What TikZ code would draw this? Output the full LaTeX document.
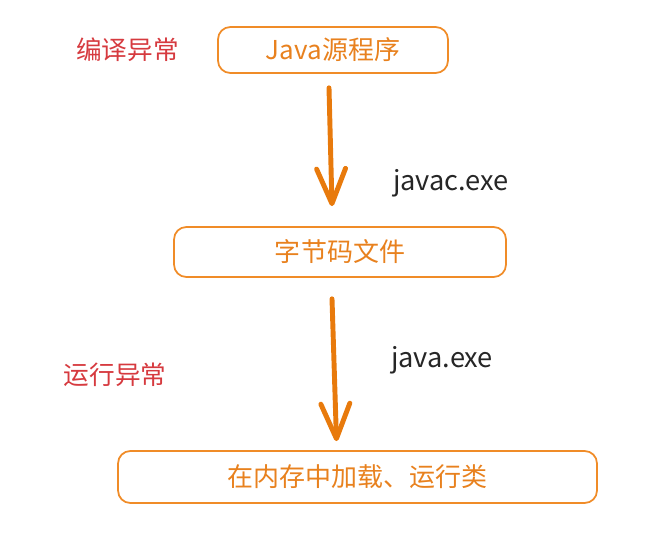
\documentclass[tikz,border=0pt]{standalone}
\usepackage{fontspec}
\setmainfont{Noto Sans CJK SC}
\usetikzlibrary{arrows.meta}
\definecolor{boxorange}{HTML}{F08C28}
\definecolor{arroworange}{HTML}{E87A0C}
\definecolor{textorange}{HTML}{E8811E}
\definecolor{errred}{HTML}{D63A3F}
\tikzset{
	stepbox/.style={draw=boxorange, line width=1pt, rounded corners=7pt,
		text=textorange, inner sep=0pt, font=\fontsize{14.8}{18}\selectfont},
	flow/.style={draw=arroworange, line width=2.8pt, line cap=round,
		-{Straight Barb[length=7mm,width=5.8mm,round]}},
	errlabel/.style={text=errred, font=\fontsize{14.6}{17}\selectfont},
	cmdlabel/.style={text=black!85, font=\fontsize{15.5}{18}\selectfont}
}
\begin{document}
\begin{tikzpicture}[x=0.02cm,y=-0.02cm]
	\useasboundingbox (0,0) rectangle (671,543);
	% boxes
	\node[stepbox, minimum width=4.6cm, minimum height=0.92cm] (src) at (333,50) {Java源程序};
	\node[stepbox, minimum width=6.64cm, minimum height=1cm] (bytecode) at (340,252) {字节码文件};
	\node[stepbox, minimum width=9.58cm, minimum height=1.04cm] (run) at (357.5,477) {在内存中加载、运行类};
	% labels
	\node[errlabel] (compileerr) at (127.5,50) {编译异常};
	\node[errlabel] (runerr) at (115,375) {运行异常};
	\node[cmdlabel] (javac) at (451,183) {javac.exe};
	\node[cmdlabel] (java) at (442,360) {java.exe};
	% arrows
	\draw[flow] ([shift={(-4,14)}]src.south) -- ([shift={(-8,-20)}]bytecode.north);
	\draw[flow] ([shift={(-8,21)}]bytecode.south) -- ([shift={(-21,-9)}]run.north);
\end{tikzpicture}
\end{document}
